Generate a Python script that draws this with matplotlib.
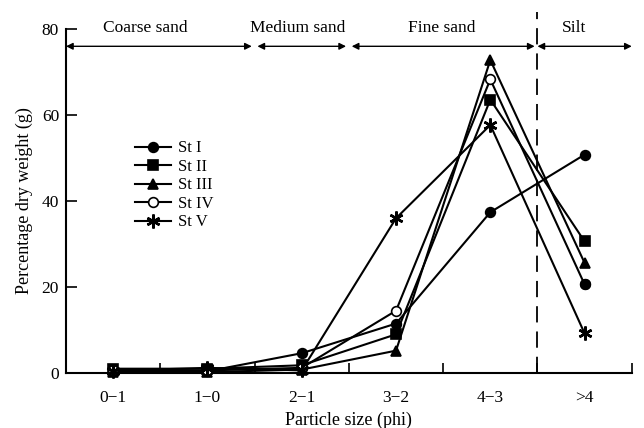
import matplotlib
matplotlib.use("Agg")
import matplotlib.pyplot as plt

# ---- data --------------------------------------------------------------------
sizes = ["0\u22121", "1\u22120", "2\u22121", "3\u22122", "4\u22123", ">4"]
st1 = [0.6, 0.4, 4.6, 11.5, 37.4, 50.8]
st2 = [1.0, 1.0, 1.8, 9.0, 63.6, 30.6]
st3 = [0.3, 0.2, 0.8, 5.2, 72.8, 25.6]
st4 = [0.8, 0.6, 1.2, 14.5, 68.3, 20.6]
st5 = [0.5, 1.2, 0.6, 36.0, 57.7, 9.2]
names = ["St I", "St II", "St III", "St IV", "St V"]

# grain classes: (label, start, end) in category units
classes = [("Coarse sand", -0.5, 1.47),
           ("Medium sand", 1.53, 2.47),
           ("Fine sand", 2.53, 4.47),
           ("Silt", 4.5, 5.5)]
class_label_x = [0.34, 1.96, 3.48, 4.89]

plt.rcParams["font.family"] = ["Liberation Serif", "DejaVu Serif"]

fig = plt.figure(figsize=(6.44, 4.28), dpi=100)
ax = fig.add_axes([0.1025, 0.1285, 0.8785, 0.8035])

x = range(len(sizes))
markers = ["o", "s", "^", "o", (6, 2, 0)]
faces = ["black", "black", "black", "white", "black"]
msizes = [7, 7, 7, 7, 10]
for name, vals, m, fc, ms in zip(names, [st1, st2, st3, st4, st5], markers, faces, msizes):
    ax.plot(x, vals, color="black", lw=1.5, marker=m, markersize=ms,
            markerfacecolor=fc, markeredgecolor="black",
            markeredgewidth=1.2 if ms == 7 else 1.8,
            label=name, clip_on=False, zorder=3)
# last St IV point is printed filled in the original
ax.plot(len(sizes) - 1, st4[-1], "o", color="black", markersize=7, zorder=4)

ax.set_xlim(-0.5, 5.5)
ax.set_ylim(0, 80)
ax.set_xticks(list(x))
ax.set_xticklabels(sizes, fontsize=12.5)
ax.set_xticks([0.5, 1.5, 2.5, 3.5, 4.5, 5.5], minor=True)
ax.tick_params(axis="x", which="major", length=0, pad=12)
ax.tick_params(axis="x", which="minor", direction="in", length=7, width=1.2)
ax.set_yticks([0, 20, 40, 60, 80])
ax.tick_params(axis="y", direction="in", length=8, width=1.2, labelsize=12.5, pad=5)

for side in ["top", "right"]:
    ax.spines[side].set_visible(False)
for side in ["left", "bottom"]:
    ax.spines[side].set_linewidth(1.5)

ax.set_xlabel("Particle size (phi)", fontsize=13, labelpad=4)
ax.set_ylabel("Percentage dry weight (g)", fontsize=13, labelpad=6)

# class arrows and labels
for (label, x0, x1), lx in zip(classes, class_label_x):
    ax.annotate("", xy=(x1, 76), xytext=(x0, 76),
                arrowprops=dict(arrowstyle="<|-|>", color="black", lw=1.0,
                                mutation_scale=10, shrinkA=0, shrinkB=0),
                annotation_clip=False)
    ax.text(lx, 80.2, label, ha="center", va="center", fontsize=12.5)

ax.plot([4.5, 4.5], [0, 84], color="black", lw=1.3, dashes=(9, 5), clip_on=False)

ax.legend(loc="upper left", bbox_to_anchor=(0.095, 0.72), frameon=False,
          fontsize=12, handlelength=2.2, handletextpad=0.4, labelspacing=0.15)

fig.savefig("out.png", dpi=100)
